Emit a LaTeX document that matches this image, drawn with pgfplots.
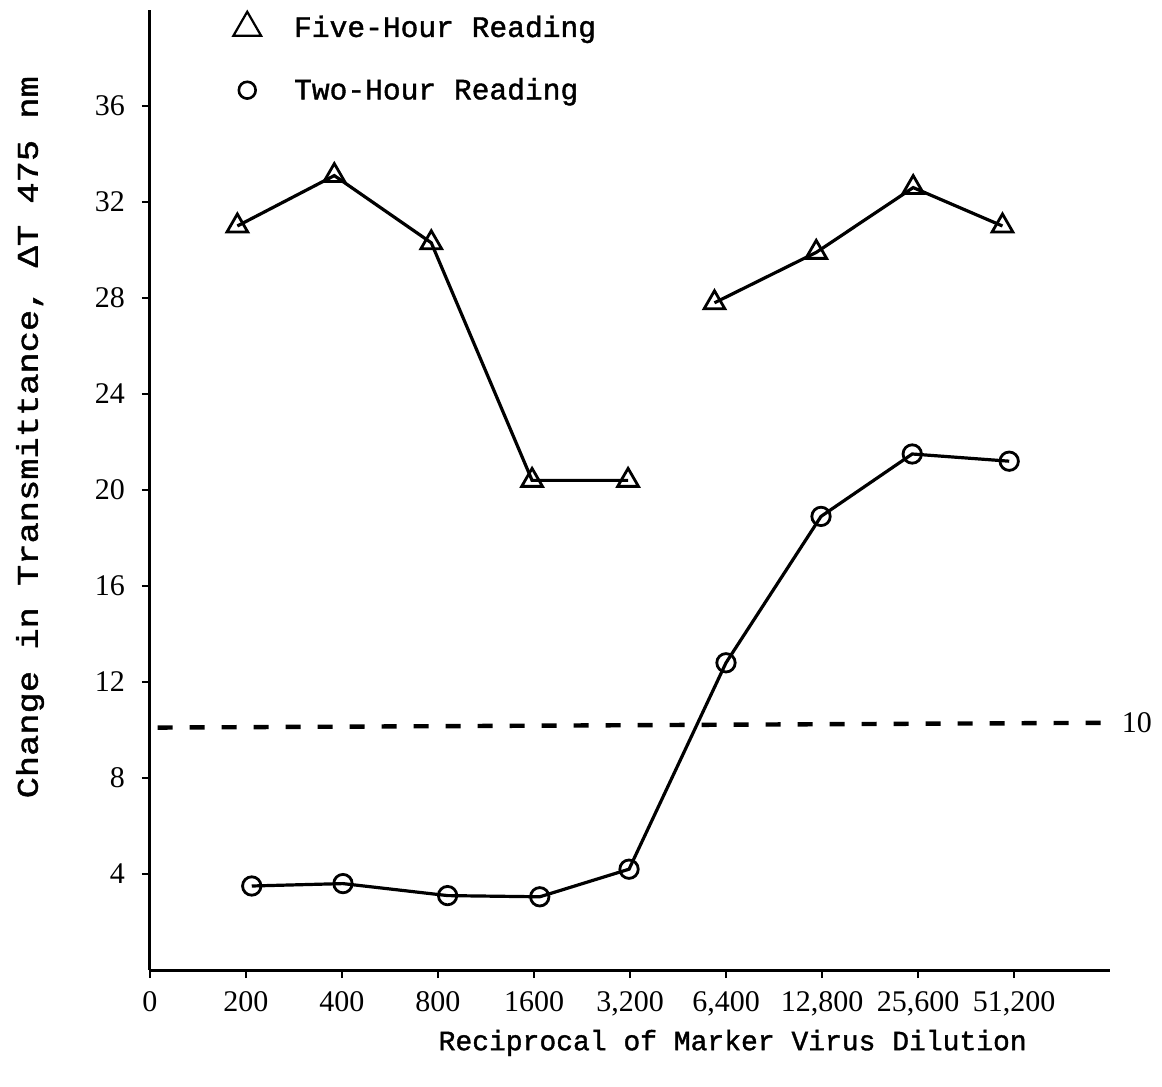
\documentclass[border=0pt]{standalone}
\usepackage{fontspec}
\setmainfont{Liberation Serif}
\newfontfamily\tw[FakeBold=1.3]{Liberation Mono}
\usepackage{pgfplots}
\pgfplotsset{compat=1.18}
\begin{document}
\begin{tikzpicture}
\useasboundingbox (-75pt,-58.5pt) rectangle (506pt,485pt);
\begin{axis}[
  at={(0,0)}, anchor=south west,
  scale only axis, width=480pt, height=480pt,
  xmin=0, xmax=10, ymin=0, ymax=40,
  axis lines=left, axis line style={-, line width=1.5pt},
  clip=false,
  xtick={0,...,9},
  xticklabels={0,200,400,800,1600,{3,200},{6,400},{12,800},{25,600},{51,200}},
  ytick={4,8,...,36},
  tick align=outside, major tick length=4pt,
  every tick/.style={black, line width=1.2pt},
  tick label style={font=\fontsize{15}{17}\selectfont},
  /pgf/number format/assume math mode=true,
  xticklabel style={yshift=-3pt},
  yticklabel style={xshift=-5pt},
  xlabel={Reciprocal of Marker Virus Dilution},
  xlabel style={font=\tw\fontsize{14}{16}\selectfont, at={(axis description cs:0.607,-0.076)}, anchor=center},
  ylabel={\scalebox{1.18}[1]{Change in Transmittance, ΔT 475 nm}},
  ylabel style={font=\tw\fontsize{15}{17}\selectfont, at={(axis description cs:-0.125,0.555)}, anchor=center},
  legend style={draw=none, fill=none, font=\tw\fontsize{14.8}{17}\selectfont,
    at={(axis description cs:0.0802,1.003)}, anchor=north west, row sep=15pt, column sep=14.5pt,
    cells={anchor=west}},
]
\addlegendimage{only marks, mark=triangle, mark size=8pt, mark options={line width=1.1pt}, black}
\addlegendentry{Five-Hour Reading}
\addlegendimage{only marks, mark=o, mark size=4.2pt, mark options={line width=1.3pt}, black}
\addlegendentry{Two-Hour Reading}

\addplot[black, line width=2.2pt, dash pattern=on 7.5pt off 8.5pt, forget plot]
  coordinates {(0.08,10.1) (9.93,10.3)};

\addplot[black, line width=1.6pt, mark=triangle, mark size=6pt,
  mark options={solid, line width=1.4pt, fill=white}, forget plot]
  coordinates {(0.91,31.0) (1.92,33.1) (2.93,30.3) (3.98,20.4) (4.98,20.4)};
\addplot[black, line width=1.6pt, mark=triangle, mark size=6pt,
  mark options={solid, line width=1.4pt, fill=white}, forget plot]
  coordinates {(5.88,27.8) (6.94,29.9) (7.95,32.6) (8.88,31.0)};
\addplot[black, line width=1.6pt, mark=o, mark size=4.6pt,
  mark options={solid, line width=1.4pt, fill=white}, forget plot]
  coordinates {(1.06,3.5) (2.01,3.6) (3.10,3.1) (4.06,3.05) (4.99,4.2) (6.00,12.8) (6.99,18.9) (7.94,21.5) (8.95,21.2)};

\node[anchor=west, font=\fontsize{15}{17}\selectfont, inner sep=0pt] at (axis cs:10.12,10.3) {10};
\end{axis}
\end{tikzpicture}
\end{document}
